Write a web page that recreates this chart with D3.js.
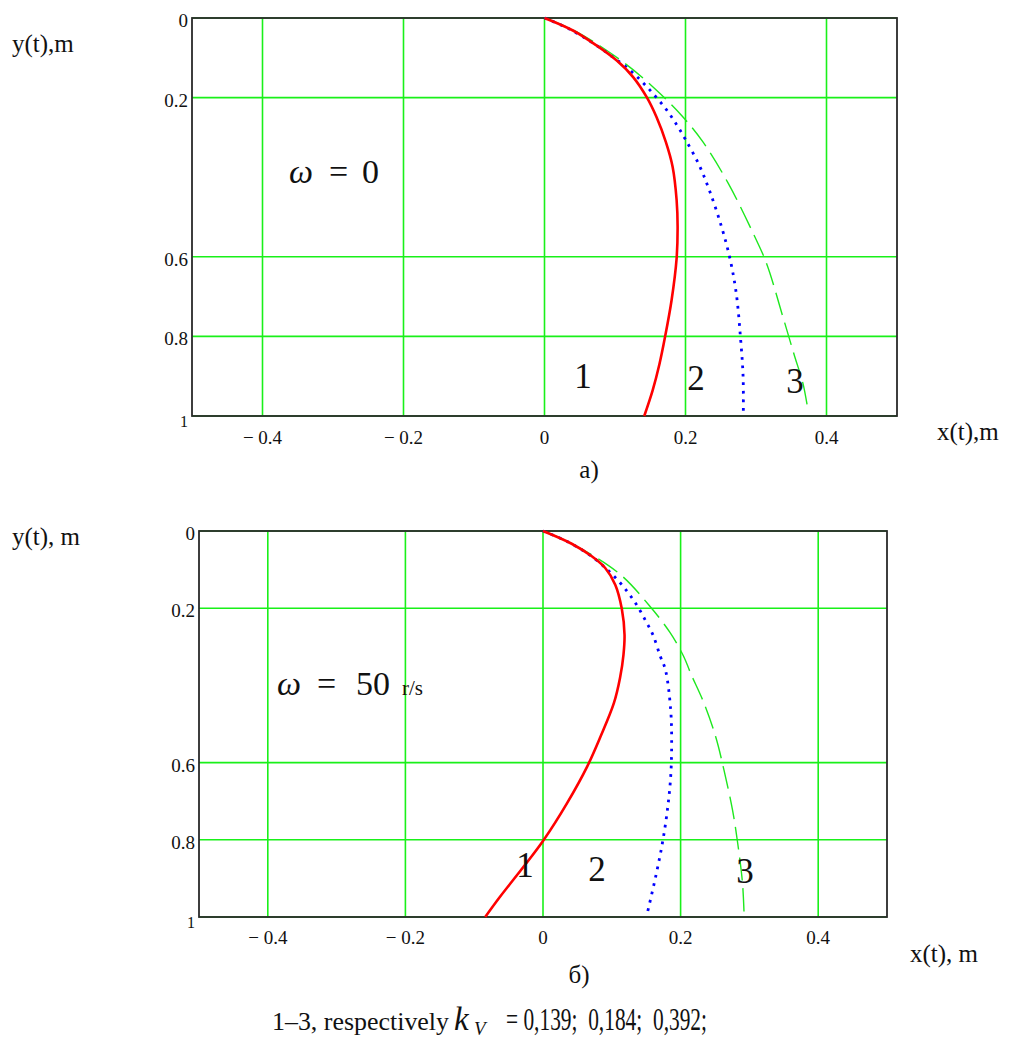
<!DOCTYPE html>
<html>
<head>
<meta charset="utf-8">
<script src="https://cdn.jsdelivr.net/npm/d3@7"></script>
<style>
  body { margin: 0; background: #fff; }
  svg { display: block; }
  text { font-family: "Liberation Serif", "Times New Roman", serif; fill: #111; }
</style>
</head>
<body>
<div id="chart"></div>
<script>
// tick values shared by both panels (Mathcad skipped 0.4 on y)
const xTicks = [-0.4, -0.2, 0, 0.2, 0.4];
const yTicks = [0, 0.2, 0.6, 0.8, 1];

// panel a) omega = 0, points are [x, y]
const a1 = [[0, 0], [0.041, 0.032], [0.0742, 0.0695], [0.1025, 0.107], [0.126, 0.149], [0.145, 0.199],
  [0.159, 0.2495], [0.1723, 0.3124], [0.1817, 0.3735], [0.1874, 0.4573], [0.1888, 0.524], [0.1874, 0.604],
  [0.1803, 0.7085], [0.1708, 0.803], [0.163, 0.870], [0.1535, 0.935], [0.1415, 1.0]];
const a2 = [[0, 0], [0.034, 0.0265], [0.0742, 0.0695], [0.0954, 0.0963], [0.1166, 0.1239], [0.1369, 0.1575],
  [0.1557, 0.1935], [0.1732, 0.231], [0.1874, 0.268], [0.2001, 0.3057], [0.2195, 0.370], [0.2345, 0.436],
  [0.251, 0.524], [0.263, 0.604], [0.272, 0.692], [0.278, 0.803], [0.2817, 0.901], [0.282, 0.995]];
const a3 = [[0, 0], [0.045, 0.034], [0.1118, 0.111], [0.1543, 0.174], [0.1945, 0.245], [0.225, 0.312],
  [0.2605, 0.415], [0.296, 0.541], [0.3148, 0.616], [0.338, 0.750], [0.355, 0.851], [0.3666, 0.918], [0.3737, 0.985]];

// panel б) omega = 50 r/s
const b1 = [[0, 0], [0.0417, 0.033], [0.0709, 0.0656], [0.0904, 0.0959], [0.105, 0.139], [0.1146, 0.202],
  [0.1185, 0.2686], [0.117, 0.320], [0.112, 0.380], [0.103, 0.446], [0.0835, 0.533], [0.064, 0.611],
  [0.035, 0.705], [0.001, 0.8005], [-0.0283, 0.870], [-0.0622, 0.947], [-0.084, 1.0]];
const b2 = [[0, 0], [0.035, 0.027], [0.0636, 0.057], [0.0855, 0.0872], [0.1058, 0.1218], [0.1234, 0.159],
  [0.138, 0.197], [0.1496, 0.234], [0.160, 0.270], [0.1705, 0.3247], [0.178, 0.360], [0.1856, 0.464],
  [0.187, 0.550], [0.1856, 0.636], [0.1808, 0.723], [0.1735, 0.809], [0.1637, 0.896], [0.1516, 0.990]];
const b3 = [[0, 0], [0.040, 0.031], [0.1098, 0.1088], [0.1535, 0.191], [0.185, 0.264], [0.2045, 0.325],
  [0.2147, 0.369], [0.234, 0.446], [0.251, 0.533], [0.263, 0.619], [0.2755, 0.723], [0.283, 0.809],
  [0.290, 0.913], [0.2924, 1.0]];

const W = 1011, H = 1042;
const GRID = "#19f019";

const svg = d3.select("#chart").append("svg")
  .attr("width", W)
  .attr("height", H);

const fmt = (d) => d < 0 ? "\u2212 " + Math.abs(d) : String(d);

const drawPanel = (p) => {
  const x = d3.scaleLinear().domain([-0.5, 0.5]).range([p.left, p.right]);
  const y = d3.scaleLinear().domain([0, 1]).range([p.top, p.bottom]);
  const g = svg.append("g");

  // grid
  g.selectAll(".vgrid").data(xTicks).enter().append("line")
    .attr("x1", (d) => x(d)).attr("x2", (d) => x(d))
    .attr("y1", p.top).attr("y2", p.bottom)
    .attr("stroke", GRID).attr("stroke-width", 1.6);
  g.selectAll(".hgrid").data(yTicks).enter().append("line")
    .attr("x1", p.left).attr("x2", p.right)
    .attr("y1", (d) => y(d)).attr("y2", (d) => y(d))
    .attr("stroke", GRID).attr("stroke-width", 1.6);

  // frame
  g.append("rect")
    .attr("x", p.left).attr("y", p.top)
    .attr("width", p.right - p.left).attr("height", p.bottom - p.top)
    .attr("fill", "none").attr("stroke", "#2a2a2a").attr("stroke-width", 1.8);

  // tick labels
  g.selectAll(".xl").data(xTicks).enter().append("text")
    .attr("x", (d) => x(d)).attr("y", p.xLabY)
    .attr("text-anchor", "middle").attr("font-size", 19)
    .text(fmt);
  g.selectAll(".yl").data(yTicks).enter().append("text")
    .attr("x", p.left - 4).attr("y", (d) => y(d) + (d === 1 ? 11 : 9))
    .attr("text-anchor", "end").attr("font-size", (d) => d === 1 ? 16 : 19)
    .text(fmt);

  // curves
  const line = d3.line().x((d) => x(d[0])).y((d) => y(d[1])).curve(d3.curveCatmullRom.alpha(0.5));
  g.append("path").datum(p.c3).attr("d", line)
    .attr("fill", "none").attr("stroke", "#1ee81e").attr("stroke-width", 1.4)
    .attr("stroke-dasharray", "23,8");
  g.append("path").datum(p.c2).attr("d", line)
    .attr("fill", "none").attr("stroke", "#0000ff").attr("stroke-width", 2.8)
    .attr("stroke-dasharray", "2.7,5.8");
  g.append("path").datum(p.c1).attr("d", line)
    .attr("fill", "none").attr("stroke", "#ff0000").attr("stroke-width", 2.6);

  // curve numbers
  p.nums.forEach((n, i) => {
    g.append("text").attr("x", n[0]).attr("y", n[1])
      .attr("text-anchor", "middle").attr("font-size", 35).text(i + 1);
  });

  // axis names
  g.append("text").attr("x", 12).attr("y", p.yNameY).attr("font-size", 25).text(p.yName);
  g.append("text").attr("x", p.xNameX).attr("y", p.xNameY).attr("font-size", 25).text(p.xName);
  g.append("text").attr("x", p.subX).attr("y", p.subY).attr("text-anchor", "middle")
    .attr("font-size", 25).text(p.sub);

  // omega note, pieces placed like the math-font layout
  const om = (txt, xx, italic) => g.append("text").attr("x", xx).attr("y", p.omY)
    .attr("font-family", "DejaVu Serif").attr("font-size", 34)
    .attr("font-style", italic ? "italic" : "normal").text(txt);
  om("\u03c9", p.omX[0], true);
  om("=", p.omX[1], false);
  om(p.omVal, p.omX[2], false);
  if (p.unit) {
    g.append("text").attr("x", p.unitX).attr("y", p.omY).attr("font-size", 21).text(p.unit);
  }
};

drawPanel({
  left: 192, right: 897, top: 18, bottom: 416,
  c1: a1, c2: a2, c3: a3,
  xLabY: 444,
  nums: [[583, 388], [696, 390], [795, 393]],
  yName: "y(t),m", yNameY: 52,
  xName: "x(t),m", xNameX: 937, xNameY: 440,
  sub: "a)", subX: 589, subY: 478,
  omX: [289, 329, 362], omY: 183, omVal: "0"
});

drawPanel({
  left: 199, right: 887, top: 531, bottom: 917,
  c1: b1, c2: b2, c3: b3,
  xLabY: 944,
  nums: [[525, 877], [597, 881], [745, 883]],
  yName: "y(t), m", yNameY: 545,
  xName: "x(t), m", xNameX: 910, xNameY: 962,
  sub: "\u0431)", subX: 579, subY: 983,
  omX: [277, 317, 356], omY: 695, omVal: "50", unit: "r/s", unitX: 402
});

// caption under both panels
const capY = 1030;
svg.append("text").attr("x", 272).attr("y", capY).attr("font-size", 25)
  .attr("textLength", 177).attr("lengthAdjust", "spacingAndGlyphs")
  .text("1\u20133, respectively");
svg.append("text").attr("x", 454).attr("y", capY).attr("font-size", 33)
  .attr("font-style", "italic").text("k");
svg.append("text").attr("x", 474).attr("y", capY + 5).attr("font-size", 19)
  .attr("font-style", "italic").text("V");
svg.append("text").attr("x", 506).attr("y", capY).attr("font-size", 32)
  .attr("textLength", 201).attr("lengthAdjust", "spacingAndGlyphs")
  .attr("xml:space", "preserve").style("white-space", "pre")
  .text("= 0,139;  0,184;  0,392;");
</script>
</body>
</html>
